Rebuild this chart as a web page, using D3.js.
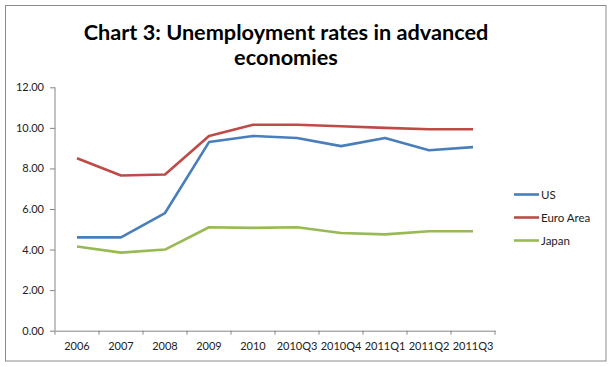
<!DOCTYPE html>
<html>
<head>
<meta charset="utf-8">
<script src="https://cdn.jsdelivr.net/npm/d3@7"></script>
<style>
  body { margin: 0; background: #fff; }
  svg { display: block; }
</style>
</head>
<body>
<svg id="chart" width="612" height="367"></svg>
<script>
// data
const categories = ['2006', '2007', '2008', '2009', '2010', '2010Q3', '2010Q4', '2011Q1', '2011Q2', '2011Q3'];
const usValues   = [4.6, 4.6, 5.8, 9.3, 9.6, 9.5, 9.1, 9.5, 8.9, 9.05];
const euroValues = [8.5, 7.65, 7.7, 9.6, 10.15, 10.15, 10.08, 10.0, 9.93, 9.93];
const japanValues = [4.15, 3.85, 4.0, 5.1, 5.07, 5.1, 4.82, 4.75, 4.9, 4.9];
const seriesNames = ['US', 'Euro Area', 'Japan'];
const seriesColors = ['#4A7EBB', '#BE4B48', '#98B954'];
const yTicks = [0, 2, 4, 6, 8, 10, 12];

const series = [usValues, euroValues, japanValues].map((v, i) => ({
  name: seriesNames[i],
  color: seriesColors[i],
  values: v
}));

const plot = { left: 55, right: 495, top: 87.3, bottom: 330.7 };
const font = 'Lato, "Open Sans", sans-serif';
const axisColor = '#868686';

const svg = d3.select('#chart');

// outer chart border
svg.append('rect')
  .attr('x', 5.5).attr('y', 5.5)
  .attr('width', 600.5).attr('height', 355.5)
  .attr('fill', '#fff')
  .attr('stroke', '#8c8c8c');

// title
const title = svg.append('text')
  .attr('text-anchor', 'middle')
  .attr('font-family', font)
  .attr('font-weight', 'bold')
  .attr('font-size', '21.7px')
  .attr('fill', '#000');
title.append('tspan').attr('x', 286).attr('y', 40).text('Chart 3: Unemployment rates in advanced');
title.append('tspan').attr('x', 286).attr('y', 65).text('economies');

const x = d3.scaleBand()
  .domain(categories)
  .range([plot.left, plot.right]);

const y = d3.scaleLinear()
  .domain([0, 12])
  .range([plot.bottom, plot.top]);

// y axis
const yAxis = d3.axisLeft(y)
  .tickValues(yTicks)
  .tickSize(5)
  .tickPadding(6)
  .tickFormat(d3.format('.2f'));

const gy = svg.append('g')
  .attr('transform', `translate(${plot.left},0)`)
  .call(yAxis);

// x axis, ticks on category boundaries
const xAxis = d3.axisBottom(x)
  .tickSize(0)
  .tickPadding(12);

const gx = svg.append('g')
  .attr('transform', `translate(0,${plot.bottom})`)
  .call(xAxis);

const boundaries = categories.map(c => x(c)).concat([x.range()[1]]);
gx.selectAll('.boundary')
  .data(boundaries)
  .enter()
  .append('line')
  .attr('class', 'boundary')
  .attr('x1', d => d).attr('x2', d => d)
  .attr('y1', 0).attr('y2', 4)
  .attr('stroke', axisColor);

[gx, gy].forEach(g => {
  g.selectAll('.domain').attr('stroke', axisColor);
  g.selectAll('.tick line').attr('stroke', axisColor);
  g.selectAll('text')
    .attr('font-family', font)
    .attr('font-size', '11px')
    .attr('fill', '#222');
});
gy.select('.domain').attr('d', `M0,${plot.bottom}V${plot.top}`);

// lines
const line = d3.line()
  .x((d, i) => x(categories[i]) + x.bandwidth() / 2)
  .y(d => y(d));

svg.append('g')
  .selectAll('path')
  .data(series)
  .enter()
  .append('path')
  .attr('d', d => line(d.values))
  .attr('fill', 'none')
  .attr('stroke', d => d.color)
  .attr('stroke-width', 2.6)
  .attr('stroke-linejoin', 'round');

// legend
const legend = svg.append('g')
  .attr('transform', 'translate(514,194.5)');

const items = legend.selectAll('g')
  .data(series)
  .enter()
  .append('g')
  .attr('transform', (d, i) => `translate(0,${i * 23})`);

items.append('line')
  .attr('x1', 0).attr('x2', 25)
  .attr('stroke', d => d.color)
  .attr('stroke-width', 2.6);

items.append('text')
  .attr('x', 27)
  .attr('dy', '0.35em')
  .attr('font-family', font)
  .attr('font-size', '11.5px')
  .attr('fill', '#222')
  .text(d => d.name);
</script>
</body>
</html>
